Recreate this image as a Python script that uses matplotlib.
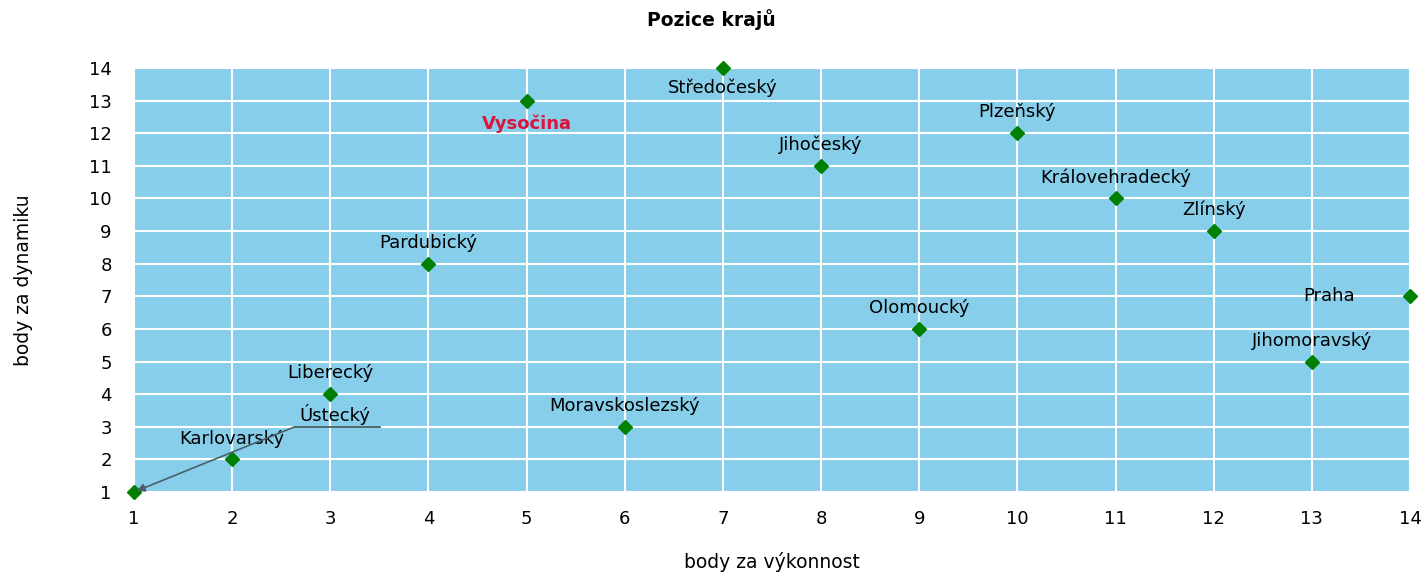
import matplotlib.pyplot as plt

# data
kraje = ["Ústecký", "Karlovarský", "Liberecký", "Pardubický", "Vysočina",
         "Moravskoslezský", "Středočeský", "Jihočeský", "Olomoucký", "Plzeňský",
         "Královehradecký", "Zlínský", "Jihomoravský", "Praha"]
vykonnost = [1, 2, 3, 4, 5, 6, 7, 8, 9, 10, 11, 12, 13, 14]
dynamika = [1, 2, 4, 8, 13, 3, 14, 11, 6, 12, 10, 9, 5, 7]
ticks = list(range(1, 15))

fig = plt.figure(figsize=(14.22, 5.74), dpi=100)
ax = fig.add_axes([0.0942, 0.1429, 0.8974, 0.7386])
ax.set_facecolor("#87CEEB")
for s in ax.spines.values():
    s.set_visible(False)

ax.set_xlim(1, 14)
ax.set_ylim(1, 14)
ax.set_xticks(ticks)
ax.set_yticks(ticks)
ax.tick_params(length=0, labelsize=13)
ax.tick_params(axis="x", pad=13)
ax.tick_params(axis="y", pad=16)
ax.grid(True, color="white", linewidth=1.5)
ax.set_axisbelow(True)

ax.plot(vykonnost, dynamika, linestyle="none", marker="D", markersize=7,
        color="#008000", clip_on=False, zorder=3)

for name, x, y in zip(kraje, vykonnost, dynamika):
    if name == "Ústecký":
        continue
    kw = dict(fontsize=13, ha="center", va="center", color="black")
    off = (0, 15)
    if name == "Středočeský":
        off = (0, -14.5)
    elif name == "Vysočina":
        off = (0, -16.5)
        kw.update(color="#DC143C", fontweight="bold")
    elif name == "Praha":
        off = (-40, 0)
        kw["ha"] = "right"
    ax.annotate(name, (x, y), xytext=off, textcoords="offset points", **kw)

# Ústecký label with leader line
ux, uy = vykonnost[0], dynamika[0]
ax.plot([2.64, 3.51], [3, 3], color="#2F4F4F", linewidth=1.2, zorder=2)
ax.annotate("", xy=(ux, uy), xytext=(2.64, 3),
            arrowprops=dict(arrowstyle="-|>", color="#4A5F6A", lw=1.2,
                            mutation_scale=12, shrinkA=0, shrinkB=2))
ax.text(3.05, 3.05, "Ústecký", fontsize=13, ha="center", va="bottom")

ax.set_xlabel("body za výkonnost", fontsize=13.5, va="top")
ax.xaxis.set_label_coords(0.5, -0.142)
ax.set_ylabel("body za dynamiku", fontsize=13.5)
ax.yaxis.set_label_coords(-0.079, 0.5)
fig.suptitle("Pozice krajů", fontsize=13.5, fontweight="bold", y=0.985)

fig.savefig("out.png", dpi=100)
